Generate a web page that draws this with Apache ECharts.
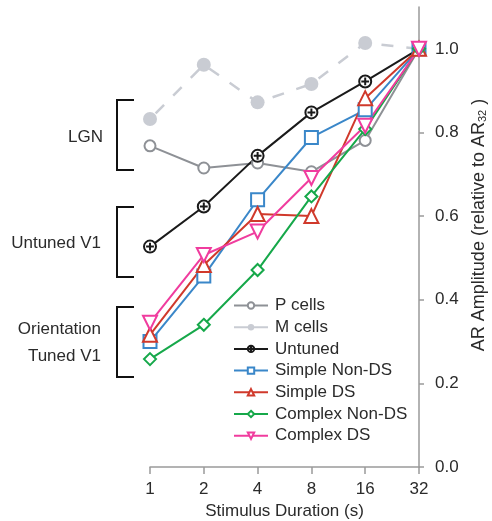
<!DOCTYPE html>
<html><head><meta charset="utf-8">
<script src="https://cdn.jsdelivr.net/npm/echarts@6/dist/echarts.min.js"></script>
<style>html,body{margin:0;padding:0;background:#fff}#c{width:492px;height:521px}</style>
</head><body><div id="c"></div>
<script>
const categories = ['1','2','4','8','16','32'];
const pCells = [0.768, 0.715, 0.727, 0.706, 0.781, 1.0];
const mCells = [0.832, 0.962, 0.872, 0.916, 1.014, 1.0];
const untuned = [0.527, 0.623, 0.744, 0.848, 0.922, 1.0];
const simpleNonDS = [0.300, 0.457, 0.639, 0.788, 0.854, 1.0];
const simpleDS = [0.316, 0.483, 0.605, 0.600, 0.882, 1.0];
const complexNonDS = [0.258, 0.340, 0.471, 0.647, 0.808, 1.0];
const complexDS = [0.345, 0.507, 0.563, 0.691, 0.816, 1.0];
const yTicks = [0, 0.2, 0.4, 0.6, 0.8, 1.0];

const FONT = 'Liberation Sans, Arial, sans-serif';
const TXT = '#2b2b2b';
const FS = 17;
const plusCircle = 'path://M10,0 A10,10 0 1,1 10,20 A10,10 0 1,1 10,0 Z M10,3.5 L10,16.5 M3.5,10 L16.5,10';

function mk(name, data, color, symbol, size, extra) {
  return Object.assign({
    name, type: 'line', data, symbol, symbolSize: size,
    lineStyle: {color, width: 2},
    itemStyle: {color: color, borderWidth: 2},
    emphasis: {disabled: true}, animation: false
  }, extra || {});
}

const chart = echarts.init(document.getElementById('c'));
const bracket = (y1, y2) => ({
  type: 'polyline', shape: {points: [[134, y1], [117, y1], [117, y2], [134, y2]]},
  style: {stroke: '#111', lineWidth: 2, fill: null}
});
const label = (x, y, t) => ({
  type: 'text', x, y, style: {text: t, font: FS + 'px ' + FONT, fill: TXT, align: 'right', verticalAlign: 'middle'}
});

chart.setOption({
  backgroundColor: '#fff',
  textStyle: {fontFamily: FONT},
  grid: {left: 150, right: 73, top: 7, bottom: 54, containLabel: false, outerBoundsMode: 'none'},
  xAxis: {
    type: 'category', data: categories, boundaryGap: false,
    axisLine: {lineStyle: {color: '#9a9a9a', width: 1.5}},
    axisTick: {alignWithLabel: true, length: 7, lineStyle: {color: '#9a9a9a', width: 1.5}},
    axisLabel: {fontSize: FS, color: TXT, margin: 14, fontFamily: FONT},
    name: 'Stimulus Duration (s)', nameLocation: 'middle', nameGap: 35,
    nameTextStyle: {fontSize: FS, color: TXT, fontFamily: FONT},
    splitLine: {show: false}
  },
  yAxis: {
    type: 'value', position: 'right', min: 0, max: 1.1, interval: 0.2,
    axisLine: {show: true, lineStyle: {color: '#9a9a9a', width: 1.5}},
    axisTick: {show: true, length: 5, lineStyle: {color: '#9a9a9a', width: 1.5},
      customValues: yTicks},
    axisLabel: {fontSize: FS, color: TXT, margin: 16, fontFamily: FONT,
      customValues: yTicks, formatter: v => v.toFixed(1)},
    splitLine: {show: false},
    name: 'AR Amplitude (relative to AR{sub|32} )', nameLocation: 'middle', nameGap: 49, nameRotate: 90,
    nameTextStyle: {fontSize: 18, color: TXT, fontFamily: FONT, padding: [0, 0, 0, 24],
      rich: {sub: {fontSize: 11, color: TXT, fontFamily: FONT, padding: [8, 0, 0, 0]}}}
  },
  legend: {
    orient: 'vertical', left: 228, top: 292, itemWidth: 34, itemHeight: 8, itemGap: 4.7,
    textStyle: {fontSize: FS, color: TXT, fontFamily: FONT, padding: [0, 0, 0, 2]},
    selectedMode: false,
    data: [
      {name: 'P cells'},
      {name: 'M cells', lineStyle: {type: 'solid'}},
      {name: 'Untuned'}, {name: 'Simple Non-DS'}, {name: 'Simple DS'},
      {name: 'Complex Non-DS'}, {name: 'Complex DS'}
    ]
  },
  series: [
    mk('P cells', pCells, '#8e9196', 'emptyCircle', 11),
    mk('M cells', mCells, '#c9ccd3', 'circle', 14, {
      lineStyle: {color: '#c9ccd3', width: 2.5, type: [12, 13], dashOffset: -8}
    }),
    mk('Untuned', untuned, '#1a1a1a', plusCircle, 12, {
      symbolKeepAspect: true,
      itemStyle: {color: '#fff', borderColor: '#1a1a1a', borderWidth: 2}
    }),
    mk('Simple Non-DS', simpleNonDS, '#3a87c9', 'emptyRect', 13),
    mk('Simple DS', simpleDS, '#d0392b', 'emptyTriangle', 14),
    mk('Complex Non-DS', complexNonDS, '#16a84a', 'emptyDiamond', 12),
    mk('Complex DS', complexDS, '#f03c9e', 'emptyTriangle', 14, {symbolRotate: 180})
  ],
  graphic: [
    bracket(100, 170), bracket(207, 277), bracket(307, 377),
    label(103, 137, 'LGN'), label(101, 243, 'Untuned V1'),
    label(101, 329, 'Orientation'), label(101, 356, 'Tuned V1')
  ]
});
</script></body></html>
